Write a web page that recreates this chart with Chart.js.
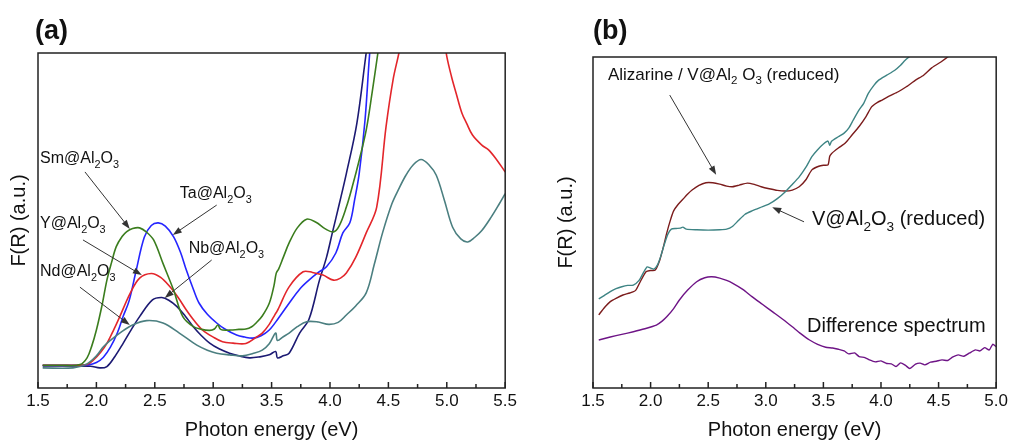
<!DOCTYPE html>
<html>
<head>
<meta charset="utf-8">
<script src="https://cdn.jsdelivr.net/npm/chart.js@4"></script>
<style>
  html, body { margin: 0; padding: 0; background: #fff; }
  #wrap { position: relative; width: 1011px; height: 443px; }
  canvas { position: absolute; top: 0; }
  #chartA { left: 0; }
  #chartB { left: 520px; }
</style>
</head>
<body>
<div id="wrap">
  <canvas id="chartA" width="520" height="443"></canvas>
  <canvas id="chartB" width="491" height="443"></canvas>
</div>
<script>
const FONT = "'Liberation Sans', Arial, sans-serif";

// panel (a): doped alumina spectra
const smX = [1.54, 1.7, 1.86, 1.92, 1.96, 2.0, 2.05, 2.09, 2.13, 2.17, 2.22, 2.26, 2.31, 2.37, 2.43, 2.49, 2.57, 2.66, 2.74, 2.83, 2.90, 2.97, 3.01, 3.04, 3.06, 3.08, 3.15, 3.22, 3.28, 3.33, 3.37, 3.42, 3.48, 3.52, 3.54, 3.56, 3.60, 3.65, 3.72, 3.80, 3.88, 3.96, 4.03, 4.08, 4.14, 4.19, 4.25, 4.31, 4.36, 4.41, 4.46];
const smY = [6.8, 6.8, 7, 9, 12.5, 17.3, 25, 32.2, 37.5, 42.2, 45.2, 46.7, 47.6, 47.8, 46.5, 44.2, 37.2, 29.3, 21.3, 18.3, 17.5, 17.2, 17.6, 18.8, 17.6, 17.3, 17.3, 17.5, 17.6, 18.3, 19.5, 21.5, 25.3, 30.5, 34.3, 35.5, 39, 43.3, 47.8, 50.4, 49.5, 47.5, 46.6, 48.5, 54, 60, 68, 77, 88, 100, 112];

const taX = [1.54, 1.75, 1.93, 2.0, 2.06, 2.12, 2.18, 2.23, 2.28, 2.34, 2.41, 2.47, 2.53, 2.59, 2.66, 2.72, 2.77, 2.83, 2.88, 2.95, 3.03, 3.10, 3.20, 3.27, 3.34, 3.41, 3.48, 3.56, 3.65, 3.74, 3.82, 3.90, 3.97, 4.05, 4.11, 4.17, 4.21, 4.25, 4.30, 4.34, 4.38];
const taY = [6.8, 6.8, 6.9, 7.6, 9.2, 12.2, 16.5, 21.5, 26, 35, 45, 48.5, 49.3, 48.3, 45.2, 40.5, 35.2, 29.5, 25.3, 22, 19.4, 17.6, 15.8, 15.2, 14.9, 15.6, 17.3, 20.9, 25.3, 29.5, 32.2, 34.5, 36.2, 40.3, 46.3, 49.3, 56, 64, 80, 100, 115];

const yX = [1.54, 1.75, 1.92, 1.98, 2.04, 2.09, 2.15, 2.20, 2.29, 2.37, 2.47, 2.55, 2.63, 2.70, 2.77, 2.84, 2.91, 3.00, 3.08, 3.17, 3.28, 3.37, 3.42, 3.48, 3.53, 3.545, 3.56, 3.65, 3.77, 3.85, 3.94, 4.03, 4.09, 4.14, 4.22, 4.31, 4.40, 4.48, 4.54, 4.59, 4.7, 4.85, 4.98, 5.0, 5.04, 5.08, 5.13, 5.17, 5.22, 5.30, 5.36, 5.43, 5.5];
const yY = [6.8, 6.8, 7, 8.5, 10.8, 13.3, 17.5, 21.3, 28.3, 32.8, 34.2, 33, 30.2, 27, 23.3, 20, 17.3, 15.2, 13.8, 13.4, 13.3, 15.2, 16.4, 19, 22, 22.8, 23.8, 30.2, 34.7, 34.5, 33.7, 32.2, 32.8, 34.3, 39, 46.3, 54, 78, 92, 100, 120, 125, 104, 99, 93, 88, 82, 79, 75.5, 72.5, 71, 68, 64.5];

const nbX = [1.54, 1.8, 1.95, 2.03, 2.09, 2.16, 2.23, 2.30, 2.37, 2.48, 2.56, 2.62, 2.69, 2.76, 2.83, 2.90, 2.97, 3.05, 3.14, 3.22, 3.31, 3.40, 3.48, 3.535, 3.55, 3.60, 3.65, 3.74, 3.82, 3.91, 3.97, 4.02, 4.08, 4.14, 4.23, 4.31, 4.36];
const nbY = [6.6, 6.6, 6.5, 6.0, 6.4, 9.5, 13.4, 17.5, 21.3, 26.3, 27, 26.2, 24.3, 21.5, 18.3, 15.6, 13.4, 11.7, 10.4, 9.6, 9, 9.3, 9.9, 10.9, 9, 9.6, 10.4, 16.4, 20.5, 32.2, 39, 46.3, 55, 64, 79, 100, 112];

const ndX = [1.54, 1.8, 1.92, 2.0, 2.06, 2.13, 2.20, 2.31, 2.43, 2.57, 2.71, 2.86, 2.95, 3.03, 3.14, 3.25, 3.34, 3.42, 3.48, 3.535, 3.55, 3.60, 3.65, 3.72, 3.80, 3.90, 3.99, 4.07, 4.14, 4.22, 4.31, 4.38, 4.45, 4.53, 4.59, 4.65, 4.71, 4.78, 4.85, 4.91, 4.98, 5.05, 5.12, 5.18, 5.24, 5.30, 5.38, 5.45, 5.5];
const ndY = [6.0, 6.0, 7.2, 9.6, 12.3, 14.5, 16.4, 18.8, 20.1, 19.4, 16.4, 12.8, 11.3, 10.4, 9.9, 9.6, 10.3, 11.3, 13.2, 16.4, 14.2, 15.3, 16.4, 18.3, 19.8, 19.7, 19.0, 19.6, 21.8, 24.5, 28.4, 37, 46.3, 55, 59.5, 63.5, 66.5, 68.2, 66.5, 63.5, 56, 48, 44.5, 43.6, 45, 47, 51, 55, 58];

// panel (b): vanadium alumina with and without alizarine
const vX = [1.55, 1.6, 1.65, 1.7, 1.75, 1.8, 1.85, 1.9, 1.94, 1.97, 2.0, 2.03, 2.06, 2.09, 2.12, 2.15, 2.18, 2.22, 2.26, 2.28, 2.31, 2.4, 2.5, 2.6, 2.66, 2.71, 2.76, 2.82, 2.88, 2.95, 3.03, 3.10, 3.17, 3.23, 3.29, 3.35, 3.40, 3.45, 3.50, 3.54, 3.555, 3.57, 3.63, 3.68, 3.72, 3.76, 3.81, 3.85, 3.89, 3.94, 3.98, 4.05, 4.12, 4.17, 4.21, 4.26, 4.30];
const vY = [26.9, 28, 29.1, 30, 30.6, 31, 31.1, 32.5, 35, 36.6, 36.2, 35.9, 37.2, 40, 43.5, 46.5, 48, 48.2, 48.3, 48.6, 48, 47.8, 47.7, 47.8, 48, 48.8, 50.5, 52.5, 53.5, 54.5, 55.6, 57.2, 59.3, 61.5, 63.8, 66.8, 69.9, 72, 73.7, 74.6, 73.3, 74.5, 75.9, 77, 78.5, 81, 84, 86, 89, 91.5, 93, 94.5, 96, 97.5, 99, 100.5, 102];

const alizX = [1.55, 1.6, 1.65, 1.7, 1.76, 1.82, 1.87, 1.91, 1.96, 2.0, 2.04, 2.08, 2.11, 2.14, 2.17, 2.2, 2.24, 2.28, 2.32, 2.36, 2.42, 2.48, 2.54, 2.6, 2.66, 2.71, 2.77, 2.84, 2.9, 2.96, 3.03, 3.1, 3.17, 3.23, 3.29, 3.35, 3.40, 3.46, 3.50, 3.54, 3.555, 3.57, 3.63, 3.69, 3.75, 3.81, 3.87, 3.92, 3.97, 4.01, 4.08, 4.15, 4.22, 4.30, 4.37, 4.44, 4.52, 4.59, 4.65];
const alizY = [22.1, 24.3, 26.1, 27.1, 28.1, 28.7, 29.5, 32.1, 35.1, 35.5, 35.6, 38.7, 42.5, 46.8, 50.5, 53.5, 55.5, 57, 58.5, 59.8, 61.2, 62, 62, 61.6, 61, 60.8, 61.3, 61.9, 61.5, 60.8, 60.2, 59.7, 59.5, 59.8, 60.8, 63, 65.9, 67, 67.3, 67.4, 70, 70.8, 72.5, 74, 76.5, 79, 82, 85, 86.3, 87, 88.3, 89.5, 91, 93, 94.5, 96.7, 98.5, 100.3, 102];

const diffX = [1.55, 1.65, 1.75, 1.85, 1.95, 2.05, 2.1, 2.14, 2.2, 2.25, 2.32, 2.4, 2.47, 2.53, 2.6, 2.66, 2.71, 2.8, 2.88, 2.97, 3.06, 3.15, 3.23, 3.3, 3.38, 3.45, 3.52, 3.58, 3.63, 3.68, 3.72, 3.77, 3.81, 3.86, 3.9, 3.95, 4.0, 4.05, 4.09, 4.13, 4.17, 4.21, 4.25, 4.3, 4.34, 4.38, 4.43, 4.48, 4.53, 4.58, 4.62, 4.67, 4.72, 4.77, 4.82, 4.86, 4.9, 4.94, 4.97, 5.0];
const diffY = [14.5, 15.4, 16.2, 17, 17.9, 19, 20.2, 21.5, 24, 26.6, 29.5, 32.1, 33.3, 33.6, 33.2, 32.5, 31.7, 29.8, 27.6, 25.3, 23, 20.7, 18.5, 16.5, 14.5, 13.2, 12.3, 12.1, 11.7, 11.2, 10.3, 10.6, 9.5, 9.2, 8.5, 7.9, 8.2, 7.4, 7.3, 6.5, 7.6, 6.9, 5.9, 7.2, 7.5, 7.0, 7.8, 8.1, 8.5, 8.3, 9.3, 10, 9.6, 10.6, 11.5, 11.2, 12.2, 11.5, 13.2, 12.5];

const xRangeA = [1.5, 5.5];
const xRangeB = [1.5, 5.0];

function points(xs, ys) {
  return xs.map((x, i) => ({ x: x, y: ys[i] }));
}

function line(xs, ys, color, width, tension) {
  return {
    data: points(xs, ys),
    borderColor: color,
    borderWidth: width,
    pointRadius: 0,
    fill: false,
    tension: tension
  };
}

// text with subscripts: runs starting with "_" are lowered
function drawRich(ctx, x, y, runs, size) {
  let cx = x;
  for (const r of runs) {
    const sub = r.startsWith('_');
    const text = sub ? r.slice(1) : r;
    const fs = sub ? size * 0.68 : size;
    ctx.font = fs + 'px ' + FONT;
    ctx.fillText(text, cx, sub ? y + size * 0.36 : y);
    cx += ctx.measureText(text).width;
  }
}

function drawArrow(ctx, x1, y1, x2, y2) {
  const ang = Math.atan2(y2 - y1, x2 - x1);
  const len = 9, half = 3.2;
  ctx.beginPath();
  ctx.moveTo(x1, y1);
  ctx.lineTo(x2 - Math.cos(ang) * len * 0.8, y2 - Math.sin(ang) * len * 0.8);
  ctx.stroke();
  ctx.beginPath();
  ctx.moveTo(x2, y2);
  ctx.lineTo(x2 - Math.cos(ang) * len - Math.sin(ang) * half, y2 - Math.sin(ang) * len + Math.cos(ang) * half);
  ctx.lineTo(x2 - Math.cos(ang) * len + Math.sin(ang) * half, y2 - Math.sin(ang) * len - Math.cos(ang) * half);
  ctx.closePath();
  ctx.fill();
}

// frame, inward ticks, panel tag and annotations
const decor = {
  id: 'decor',
  afterDraw(chart, args, opts) {
    const { ctx, chartArea: a, scales: { x, y } } = chart;
    ctx.save();
    ctx.strokeStyle = '#222';
    ctx.lineWidth = 1.5;
    ctx.strokeRect(a.left, a.top, a.right - a.left, a.bottom - a.top);

    for (let i = 0; x.min + i * 0.25 <= x.max + 1e-9; i++) {
      const px = x.getPixelForValue(x.min + i * 0.25);
      ctx.beginPath();
      ctx.moveTo(px, a.bottom);
      ctx.lineTo(px, a.bottom - (i % 2 === 0 ? 6 : 4));
      ctx.stroke();
    }

    ctx.fillStyle = '#111';
    ctx.textBaseline = 'middle';
    ctx.textAlign = 'left';
    ctx.font = 'bold 27px ' + FONT;
    ctx.fillText(opts.tag, opts.tagX, 32);

    for (const n of opts.notes) {
      drawRich(ctx, x.getPixelForValue(n.x), y.getPixelForValue(n.y), n.runs, n.size);
    }
    ctx.strokeStyle = '#333';
    ctx.fillStyle = '#333';
    ctx.lineWidth = 1;
    for (const ar of opts.arrows) {
      drawArrow(ctx, x.getPixelForValue(ar[0]), y.getPixelForValue(ar[1]),
        x.getPixelForValue(ar[2]), y.getPixelForValue(ar[3]));
    }
    ctx.restore();
  }
};

function options(xr, yWidth, padding, decorOpts) {
  return {
    responsive: false,
    devicePixelRatio: 1,
    animation: false,
    layout: { padding: padding },
    plugins: { legend: { display: false }, tooltip: { enabled: false }, decor: decorOpts },
    scales: {
      x: {
        type: 'linear',
        min: xr[0],
        max: xr[1],
        grid: { display: false, drawTicks: false },
        border: { display: false },
        ticks: {
          stepSize: 0.5, padding: 3, color: '#111', maxRotation: 0, autoSkip: false,
          font: { size: 17, family: FONT },
          callback: v => v.toFixed(1)
        },
        title: {
          display: true, text: 'Photon energy (eV)', color: '#111',
          font: { size: 20, family: FONT }, padding: { top: 0, bottom: 1 }
        },
        afterFit: s => { s.height = 55; }
      },
      y: {
        min: 0,
        max: 100,
        grid: { display: false, drawTicks: false },
        border: { display: false },
        ticks: { display: false },
        title: {
          display: true, text: 'F(R) (a.u.)', color: '#111',
          font: { size: 20, family: FONT }, padding: { top: 7, bottom: 0 }
        },
        afterFit: s => { s.width = yWidth; }
      }
    }
  };
}

new Chart(document.getElementById('chartA'), {
  type: 'line',
  data: {
    datasets: [
      line(ndX, ndY, '#4b7f80', 1.6, 0.35),
      line(smX, smY, '#3b7d1e', 1.6, 0.35),
      line(yX, yY, '#e3262b', 1.6, 0.35),
      line(taX, taY, '#2525ff', 1.6, 0.35),
      line(nbX, nbY, '#1c1a73', 1.6, 0.35)
    ]
  },
  options: options(xRangeA, 38, { left: 0, right: 14, top: 53, bottom: 0 }, {
    tag: '(a)', tagX: 35,
    notes: [
      { x: 1.517, y: 68.4, runs: ['Sm@Al', '_2', 'O', '_3'], size: 16 },
      { x: 2.714, y: 57.9, runs: ['Ta@Al', '_2', 'O', '_3'], size: 16 },
      { x: 1.517, y: 49.0, runs: ['Y@Al', '_2', 'O', '_3'], size: 16 },
      { x: 2.790, y: 41.5, runs: ['Nb@Al', '_2', 'O', '_3'], size: 16 },
      { x: 1.517, y: 34.6, runs: ['Nd@Al', '_2', 'O', '_3'], size: 16 }
    ],
    arrows: [
      [1.902, 64.5, 2.286, 47.5],
      [3.030, 54.6, 2.654, 45.7],
      [1.885, 44.2, 2.389, 33.7],
      [2.987, 38.2, 2.585, 26.9],
      [1.859, 30.1, 2.286, 18.8]
    ]
  }),
  plugins: [decor]
});

new Chart(document.getElementById('chartB'), {
  type: 'line',
  data: {
    datasets: [
      line(vX, vY, '#3e8484', 1.4, 0.2),
      line(alizX, alizY, '#7b1c1c', 1.4, 0.2),
      line(diffX, diffY, '#6e1486', 1.4, 0.2)
    ]
  },
  options: options(xRangeB, 46, { left: 27, right: 13, top: 57, bottom: 0 }, {
    tag: '(b)', tagX: 73,
    notes: [
      { x: 1.630, y: 94.6, runs: ['Alizarine / V@Al', '_2', ' O', '_3', ' (reduced)'], size: 17 },
      { x: 3.401, y: 50.8, runs: ['V@Al', '_2', 'O', '_3', ' (reduced)'], size: 20 },
      { x: 3.358, y: 18.7, runs: ['Difference spectrum'], size: 20 }
    ],
    arrows: [
      [2.166, 88.5, 2.569, 64.4],
      [3.332, 50.2, 3.056, 54.6]
    ]
  }),
  plugins: [decor]
});
</script>
</body>
</html>
